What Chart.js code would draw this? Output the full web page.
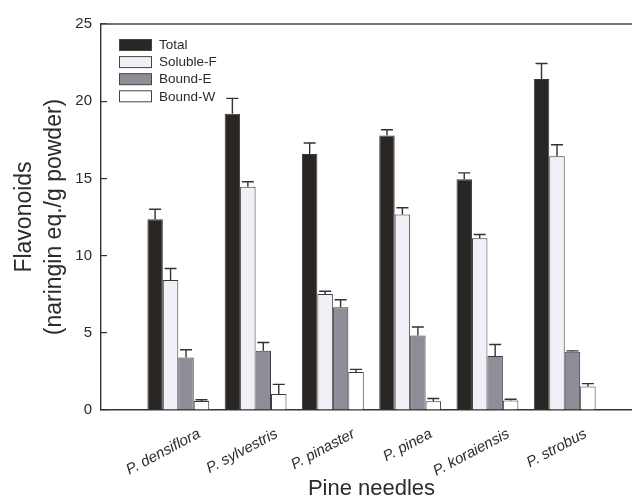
<!DOCTYPE html>
<html>
<head>
<meta charset="utf-8">
<script src="https://cdn.jsdelivr.net/npm/chart.js@4.4.1/dist/chart.umd.min.js"></script>
<style>
    html, body { margin: 0; padding: 0; background: #fff; overflow: hidden; }
    #chart { display: block; }
</style>
</head>
<body>
<canvas id="chart" width="650" height="503"></canvas>
<script>
// Categories and series
const species = ['P. densiflora', 'P. sylvestris', 'P. pinaster', 'P. pinea', 'P. koraiensis', 'P. strobus'];
const seriesNames = ['Total', 'Soluble-F', 'Bound-E', 'Bound-W'];

const total = [12.35, 19.18, 16.58, 17.78, 14.95, 21.43];
const totalErr = [0.65, 1.0, 0.71, 0.37, 0.41, 1.01];
const soluble = [8.42, 14.46, 7.52, 12.67, 11.13, 16.43];
const solubleErr = [0.74, 0.32, 0.17, 0.43, 0.24, 0.75];
const boundE = [3.40, 3.83, 6.66, 4.82, 3.49, 3.77];
const boundEErr = [0.50, 0.54, 0.48, 0.56, 0.75, 0.06];
const boundW = [0.59, 1.04, 2.46, 0.57, 0.61, 1.53];
const boundWErr = [0.07, 0.62, 0.17, 0.17, 0.09, 0.18];

const yTicks = [0, 5, 10, 15, 20, 25];

const fontFamily = '"Liberation Sans", Arial, sans-serif';
const ink = '#2b2b2b';

// empty slot at each end so the groups sit at 1..6 like the original axis
const axisLabels = [''].concat(species, ['']);
const pad = arr => [null].concat(arr, [null]);

const fills = ['#2a2624', '#f0f0f6', '#8e8e98', '#ffffff'];
const values = [total, soluble, boundE, boundW];
const errors = [totalErr, solubleErr, boundEErr, boundWErr];

// Error bars (upper only), drawn through the y scale
const errorBars = {
    id: 'errorBars',
    afterDatasetsDraw(chart) {
        const ctx = chart.ctx;
        const yScale = chart.scales.y;
        ctx.save();
        ctx.strokeStyle = '#333';
        ctx.lineWidth = 1.4;
        chart.data.datasets.forEach((ds, i) => {
            const meta = chart.getDatasetMeta(i);
            meta.data.forEach((bar, j) => {
                const v = ds.data[j];
                if (v === null) return;
                const err = ds.errors[j];
                const top = yScale.getPixelForValue(v + err);
                ctx.beginPath();
                ctx.moveTo(bar.x, bar.y);
                ctx.lineTo(bar.x, top);
                ctx.moveTo(bar.x - 6, top);
                ctx.lineTo(bar.x + 6, top);
                ctx.stroke();
            });
        });
        ctx.restore();
    }
};

// Top frame line and the legend inside the plot
const frameAndLegend = {
    id: 'frameAndLegend',
    afterDraw(chart) {
        const ctx = chart.ctx;
        const area = chart.chartArea;
        ctx.save();
        ctx.strokeStyle = '#444';
        ctx.lineWidth = 1.3;
        ctx.beginPath();
        ctx.moveTo(area.left, area.top);
        ctx.lineTo(area.right, area.top);
        ctx.stroke();

        ctx.font = '13.5px ' + fontFamily;
        ctx.textBaseline = 'middle';
        ctx.textAlign = 'left';
        chart.data.datasets.forEach((ds, i) => {
            const cy = area.top + 21 + i * 17.1;
            ctx.fillStyle = ds.backgroundColor;
            ctx.fillRect(119.5, cy - 5.5, 32, 11);
            ctx.strokeStyle = '#444';
            ctx.lineWidth = 1;
            ctx.strokeRect(119.5, cy - 5.5, 32, 11);
            ctx.fillStyle = ink;
            ctx.fillText(ds.label, 159, cy + 0.5);
        });
        ctx.restore();
    }
};

const datasets = seriesNames.map((name, i) => ({
    label: name,
    data: pad(values[i]),
    errors: pad(errors[i]),
    backgroundColor: fills[i],
    borderColor: '#3a3a3a',
    borderWidth: 1,
    categoryPercentage: 0.8,
    barPercentage: 1.0
}));

new Chart(document.getElementById('chart'), {
    type: 'bar',
    data: { labels: axisLabels, datasets: datasets },
    plugins: [errorBars, frameAndLegend],
    options: {
        responsive: false,
        animation: false,
        layout: { padding: { top: 21, right: 8, left: 0, bottom: 0 } },
        plugins: {
            legend: { display: false },
            tooltip: { enabled: false }
        },
        scales: {
            x: {
                offset: false,
                grid: { display: false, drawTicks: false },
                border: { display: true, color: '#333', width: 1.4 },
                ticks: {
                    autoSkip: false,
                    minRotation: 28,
                    maxRotation: 28,
                    labelOffset: 21,
                    padding: 15,
                    color: ink,
                    font: { family: fontFamily, size: 15, style: 'italic' }
                },
                title: {
                    display: true,
                    text: 'Pine needles',
                    color: ink,
                    font: { family: fontFamily, size: 22 },
                    padding: { top: 0, bottom: 1 }
                },
                afterFit: scale => {
                    scale.height = 93;
                    scale.paddingLeft = 0;
                    scale.paddingRight = 0;
                }
            },
            y: {
                min: 0,
                max: 25,
                afterBuildTicks: scale => { scale.ticks = yTicks.map(v => ({ value: v })); },
                grid: { drawOnChartArea: false, drawTicks: true, tickLength: -6, color: '#333', lineWidth: 1.2 },
                border: { display: true, color: '#333', width: 1.4 },
                ticks: {
                    padding: 15,
                    color: ink,
                    font: { family: fontFamily, size: 15 }
                },
                title: {
                    display: true,
                    text: ['Flavonoids', '(naringin eq./g powder)'],
                    color: ink,
                    font: { family: fontFamily, size: 23, lineHeight: 1.28 },
                    padding: { top: 10, bottom: 0 }
                },
                afterFit: scale => { scale.width = 101; }
            }
        }
    }
});
</script>
</body>
</html>
